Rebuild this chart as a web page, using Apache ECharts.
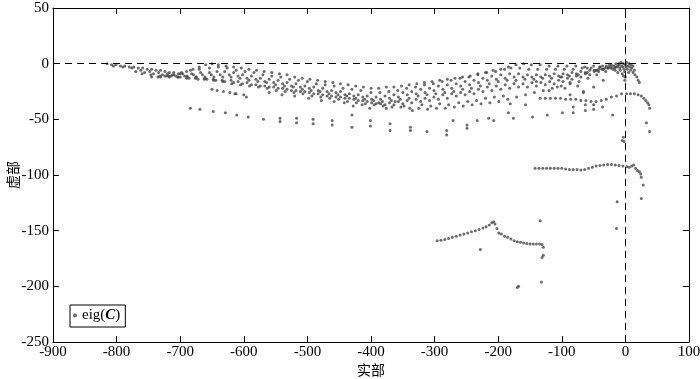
<!DOCTYPE html>
<html>
<head>
<meta charset="utf-8">
<script src="https://cdn.jsdelivr.net/npm/echarts@6/dist/echarts.min.js"></script>
<style>
  html, body { margin: 0; padding: 0; background: #fff; }
  #chart { width: 700px; height: 379px; }
</style>
</head>
<body>
<div id="chart"></div>
<script>
// axis ticks
var xTicks = [-900, -800, -700, -600, -500, -400, -300, -200, -100, 0, 100];
var yTicks = [-250, -200, -150, -100, -50, 0, 50];

var arcTop = [[-700,-9],[-690,-7],[-680,-5],[-670,-3],[-660,-1],[-650,0],[-640,-1],[-628,-2],[-616,-3],[-604,-4],[-592,-5],[-580,-6],[-568,-7],[-556,-8],[-544,-9],[-532,-10],[-520,-12],[-508,-13],[-496,-14],[-484,-15],[-472,-16],[-460,-17],[-448,-18],[-436,-19],[-424,-20],[-412,-21],[-400,-22],[-388,-22],[-376,-21],[-364,-21],[-352,-20],[-340,-19],[-328,-18],[-316,-17],[-304,-16],[-292,-15],[-280,-14],[-268,-13],[-256,-12],[-244,-11],[-232,-9],[-220,-8],[-208,-6],[-196,-5],[-184,-3],[-172,-1],[-160,0],[-148,-1],[-134,-1],[-120,-2],[-106,-2],[-92,-2],[-78,-2],[-64,-3],[-50,-2],[-36,-2],[-22,-1],[-10,0]];
var arc2 = [[-712,-10],[-698,-8],[-684,-6],[-670,-5],[-654,-4],[-640,-3],[-626,-4],[-612,-6],[-598,-7],[-584,-8],[-570,-10],[-556,-11],[-542,-12],[-528,-14],[-514,-15],[-500,-16],[-486,-18],[-472,-19],[-458,-20],[-444,-22],[-430,-23],[-416,-24],[-400,-26],[-386,-26],[-372,-25],[-358,-24],[-344,-22],[-330,-21],[-316,-19],[-302,-18],[-288,-16],[-274,-15],[-260,-13],[-246,-12],[-232,-10],[-218,-8],[-204,-7],[-190,-5],[-180,-4],[-166,-4],[-152,-5],[-138,-5],[-124,-5],[-110,-5],[-96,-5],[-82,-5],[-68,-4],[-54,-4],[-40,-3],[-26,-3],[-12,-2]];
var arc3 = [[-724,-11],[-710,-10],[-696,-9],[-682,-9],[-668,-8],[-654,-8],[-642,-7],[-630,-7],[-616,-8],[-602,-10],[-588,-11],[-574,-13],[-560,-14],[-546,-15],[-532,-17],[-518,-18],[-504,-20],[-490,-21],[-476,-22],[-462,-24],[-448,-25],[-434,-27],[-420,-28],[-406,-29],[-392,-30],[-378,-29],[-364,-28],[-350,-26],[-336,-25],[-322,-23],[-308,-22],[-294,-20],[-280,-19],[-266,-18],[-252,-16],[-238,-15],[-224,-13],[-210,-11],[-196,-10],[-182,-9],[-168,-9],[-154,-10],[-140,-10],[-126,-10],[-112,-9],[-98,-9],[-84,-8],[-70,-7],[-56,-6],[-42,-5],[-28,-4],[-16,-3]];
var arc3b = [[-735,-12],[-721,-11],[-707,-11],[-693,-11],[-679,-10],[-665,-10],[-651,-10],[-637,-10],[-623,-10],[-609,-11],[-595,-13],[-581,-14],[-567,-16],[-553,-17],[-539,-18],[-525,-20],[-511,-21],[-497,-22],[-483,-24],[-469,-25],[-455,-26],[-441,-28],[-427,-29],[-413,-30],[-399,-32],[-385,-32],[-371,-31],[-357,-30],[-343,-28],[-329,-27],[-315,-26],[-301,-24],[-287,-23],[-273,-22],[-259,-20],[-245,-19],[-231,-17],[-217,-15],[-203,-14],[-189,-13],[-175,-12],[-161,-12],[-147,-12],[-133,-12],[-119,-11],[-105,-11],[-91,-10],[-77,-9],[-63,-8],[-49,-6],[-35,-5],[-23,-4]];
var arc4 = [[-745,-12],[-731,-12],[-717,-12],[-703,-12],[-689,-12],[-675,-12],[-661,-12],[-647,-12],[-633,-12],[-620,-12],[-606,-13],[-592,-15],[-578,-16],[-564,-17],[-550,-19],[-536,-20],[-522,-21],[-508,-23],[-494,-24],[-480,-25],[-466,-27],[-452,-28],[-438,-29],[-424,-31],[-410,-32],[-396,-33],[-382,-34],[-368,-33],[-354,-32],[-340,-31],[-326,-29],[-312,-28],[-298,-27],[-284,-26],[-270,-25],[-256,-23],[-242,-22],[-228,-20],[-214,-18],[-200,-16],[-186,-15],[-172,-15],[-158,-14],[-144,-14],[-130,-13],[-116,-13],[-102,-12],[-88,-11],[-74,-10],[-60,-8],[-46,-6],[-32,-4]];
var arc4b = [[-760,-9],[-746,-10],[-732,-11],[-718,-11],[-704,-12],[-690,-13],[-676,-13],[-662,-14],[-648,-14],[-634,-15],[-620,-15],[-609,-16],[-595,-17],[-581,-19],[-567,-20],[-553,-21],[-539,-22],[-525,-24],[-511,-25],[-497,-26],[-483,-27],[-469,-29],[-455,-30],[-441,-31],[-427,-32],[-413,-33],[-399,-35],[-385,-36],[-371,-35],[-357,-34],[-343,-33],[-329,-32],[-315,-31],[-301,-30],[-287,-28],[-273,-27],[-259,-26],[-245,-25],[-231,-23],[-217,-21],[-203,-20],[-189,-19],[-175,-18],[-161,-18],[-147,-17],[-133,-17],[-119,-16],[-105,-15],[-91,-13],[-77,-11],[-63,-9],[-49,-7],[-37,-5]];
var arc5 = [[-770,-7],[-756,-8],[-742,-9],[-728,-10],[-714,-11],[-700,-12],[-686,-13],[-672,-14],[-658,-14],[-644,-15],[-630,-16],[-616,-17],[-602,-18],[-588,-19],[-574,-20],[-560,-21],[-546,-22],[-532,-23],[-518,-24],[-504,-25],[-490,-27],[-476,-28],[-462,-29],[-448,-30],[-434,-31],[-420,-33],[-406,-34],[-392,-36],[-378,-37],[-364,-37],[-350,-36],[-336,-35],[-322,-34],[-308,-33],[-294,-32],[-280,-31],[-266,-29],[-252,-28],[-238,-27],[-224,-25],[-210,-24],[-196,-23],[-182,-22],[-168,-21],[-154,-21],[-140,-20],[-126,-19],[-112,-18],[-98,-16],[-84,-14],[-70,-12],[-56,-10],[-42,-7]];
var arcBottom = [[-815,0],[-808,-1],[-801,-1],[-794,-2],[-787,-2],[-780,-3],[-773,-3],[-766,-4],[-759,-4],[-752,-5],[-745,-5],[-738,-6],[-731,-6],[-724,-7],[-717,-8],[-710,-8],[-703,-9],[-689,-11],[-675,-12],[-661,-13],[-647,-15],[-633,-16],[-619,-18],[-605,-19],[-591,-20],[-577,-21],[-563,-22],[-549,-24],[-535,-25],[-521,-26],[-507,-27],[-493,-29],[-479,-30],[-465,-31],[-451,-32],[-437,-34],[-423,-35],[-409,-36],[-395,-37],[-381,-38],[-367,-39],[-353,-39],[-339,-40],[-325,-40],[-311,-41],[-297,-40],[-283,-40],[-269,-39],[-255,-38],[-241,-37],[-227,-36],[-213,-35],[-199,-34],[-185,-32],[-171,-30],[-157,-28],[-143,-26],[-129,-24],[-115,-22],[-101,-20],[-87,-18],[-73,-16],[-59,-13],[-45,-10],[-31,-7],[-17,-4]];
var lensScatter = [[-442,-35],[-428,-38],[-414,-37],[-402,-40],[-388,-35],[-376,-40],[-362,-34],[-348,-38],[-335,-42],[-320,-37],[-306,-38],[-292,-36],[-278,-37],[-262,-35],[-248,-34],[-234,-33],[-220,-31],[-206,-30],[-192,-29],[-181,-36],[-157,-37],[-560,-26],[-540,-28],[-520,-29],[-498,-31],[-478,-33],[-458,-34],[-614,-27],[-596,-30],[-107,-21],[-87,-17],[-66,-25],[-50,-21],[-35,-15],[-120,-24],[-95,-22],[-75,-20],[-140,-16],[-100,-12],[-60,-4],[-805,-2],[-790,-3],[-776,-4],[-762,-6],[-748,-7],[-734,-8],[-720,-9]];
var nearZero = [[-30,-2],[-27,-4],[-25,-1],[-22,-3],[-20,-5],[-18,-2],[-16,-6],[-15,0],[-13,-3],[-12,-8],[-10,-1],[-9,-4],[-8,-6],[-7,1],[-6,-2],[-5,-9],[-4,-3],[-3,0],[-2,-5],[-1,-7],[0,-1],[1,-3],[2,1],[3,-5],[4,-2],[5,-8],[6,0],[7,-3],[8,-6],[9,-1],[10,-4],[12,-2],[-35,-5],[-40,-3],[-45,-6],[-3,-11],[0,-12],[-1,-15],[14,-6],[12,-8],[15,-10],[18,-12],[20,-15],[22,-17]];
var lowRow1 = [[-650,-23],[-642,-24],[-632,-25],[-622,-26],[-612,-27],[-600,-28]];
var lowRow2 = [[-684,-40],[-669,-41],[-648,-43],[-629,-44],[-611,-46],[-593,-48],[-569,-50],[-543,-49],[-543,-52],[-517,-49],[-517,-53],[-491,-50],[-491,-54],[-461,-51],[-461,-55],[-430,-46],[-430,-57],[-401,-51],[-401,-56],[-370,-54],[-370,-60],[-338,-57],[-338,-60],[-312,-61],[-281,-60],[-281,-64],[-271,-51],[-249,-55],[-249,-58],[-233,-51],[-215,-49],[-207,-51],[-184,-44],[-176,-49],[-146,-48],[-123,-46],[-99,-44],[-82,-39],[-82,-44],[-63,-37],[-63,-42],[-50,-37],[-50,-41],[-36,-39],[-20,-46]];
var midRow = [[-134,-31],[-126,-31],[-118,-31],[-110,-31],[-102,-31],[-94,-32],[-86,-32],[-78,-32],[-70,-33],[-62,-33],[-54,-34],[-46,-34],[-38,-33],[-30,-32],[-22,-30],[-14,-29],[-6,-27],[2,-27],[8,-27],[14,-27],[20,-28],[25,-29],[29,-31],[32,-33],[35,-35],[37,-37],[38,-40],[33,-53],[38,-61],[-87,-28],[-66,-26],[-5,-69],[-3,-66],[-2,-70]];
var row95 = [[-142,-94],[-136,-94],[-130,-94],[-124,-94],[-118,-94],[-112,-94],[-106,-94],[-100,-94],[-94,-94.5],[-88,-95],[-82,-95],[-76,-95],[-70,-95.5],[-64,-95],[-58,-94],[-52,-93],[-46,-92],[-40,-91.5],[-34,-91],[-28,-90.5],[-22,-90.5],[-16,-91],[-10,-91.5],[-4,-92],[2,-92.5],[6,-93],[10,-92],[13,-91],[16,-94],[19,-96],[22,-97],[24,-99],[25,-102],[28,-109],[25,-121],[-13,-124],[-14,-148]];
var row160 = [[-296,-159],[-290,-158.5],[-284,-158],[-278,-157],[-272,-156],[-266,-155],[-260,-154],[-254,-153],[-248,-152],[-242,-151],[-236,-150],[-230,-149],[-224,-147.5],[-219,-146.5],[-214,-145],[-210,-143],[-207,-142],[-205,-144],[-202,-148],[-199,-152],[-195,-153],[-190,-155],[-185,-156],[-180,-157.5],[-175,-159],[-170,-160],[-165,-160.5],[-160,-161],[-155,-161.5],[-150,-162],[-145,-162],[-140,-162],[-135,-162],[-131,-162.5],[-129,-165],[-129,-172],[-131,-174],[-134,-141],[-228,-167],[-168,-200],[-170,-201],[-132,-196]];

var allPoints = [].concat(arcTop, arc2, arc3, arc3b, arc4, arc4b, arc5, arcBottom, lensScatter, nearZero, lowRow1, lowRow2, midRow, row95, row160);

var chart = echarts.init(document.getElementById('chart'));
var font = "'Liberation Serif', 'Noto Sans CJK SC', serif";
var cjk = "'Noto Sans CJK SC', 'Liberation Serif', serif";
var tickStyle = { inside: true, length: 6, lineStyle: { color: '#000' } };

var option = {
    animation: false,
    backgroundColor: '#fff',
    grid: { left: 53, right: 11, top: 8, bottom: 37, outerBoundsMode: 'none' },
    legend: {
        left: 70, top: 305,
        orient: 'vertical',
        padding: [3, 5, 4, 3],
        borderColor: '#000',
        borderWidth: 1,
        itemWidth: 4, itemHeight: 4, itemGap: 4,
        data: [{ name: 'eig(C)', icon: 'circle' }],
        formatter: function () { return 'eig({c|C})'; },
        textStyle: {
            fontFamily: font, fontSize: 15, color: '#000',
            rich: { c: { fontFamily: font, fontSize: 15, fontWeight: 'bold', fontStyle: 'italic', color: '#000' } }
        }
    },
    xAxis: [{
        type: 'value', min: xTicks[0], max: xTicks[xTicks.length - 1], interval: 100,
        name: '实部', nameLocation: 'middle', nameGap: 21, nameMoveOverlap: false,
        nameTextStyle: { fontFamily: cjk, fontSize: 14, color: '#000' },
        axisLine: { onZero: false, lineStyle: { color: '#000', width: 1 } },
        axisTick: tickStyle,
        axisLabel: { fontFamily: font, fontSize: 15, color: '#000', margin: 3 },
        splitLine: { show: false }
    }, {
        type: 'value', position: 'top', min: xTicks[0], max: xTicks[xTicks.length - 1], interval: 100,
        axisLine: { onZero: false, lineStyle: { color: '#000', width: 1 } },
        axisTick: tickStyle, axisLabel: { show: false }, splitLine: { show: false }
    }],
    yAxis: [{
        type: 'value', min: yTicks[0], max: yTicks[yTicks.length - 1], interval: 50,
        name: '虚部', nameLocation: 'middle', nameGap: 33, nameMoveOverlap: false,
        nameTextStyle: { fontFamily: cjk, fontSize: 14, color: '#000' },
        axisLine: { show: true, onZero: false, lineStyle: { color: '#000', width: 1 } },
        axisTick: tickStyle,
        axisLabel: { fontFamily: font, fontSize: 15, color: '#000', margin: 4 },
        splitLine: { show: false }
    }, {
        type: 'value', position: 'right', min: yTicks[0], max: yTicks[yTicks.length - 1], interval: 50,
        axisLine: { show: true, onZero: false, lineStyle: { color: '#000', width: 1 } },
        axisTick: tickStyle, axisLabel: { show: false }, splitLine: { show: false }
    }],
    series: [{
        name: 'eig(C)',
        type: 'scatter',
        symbol: 'circle',
        symbolSize: 3,
        itemStyle: { color: '#474747' },
        data: allPoints,
        markLine: {
            silent: true,
            symbol: 'none',
            label: { show: false },
            lineStyle: { color: '#000', width: 1, type: [7, 5] },
            data: [{ yAxis: 0 }, { xAxis: 0 }]
        }
    }]
};
chart.setOption(option);
</script>
</body>
</html>
